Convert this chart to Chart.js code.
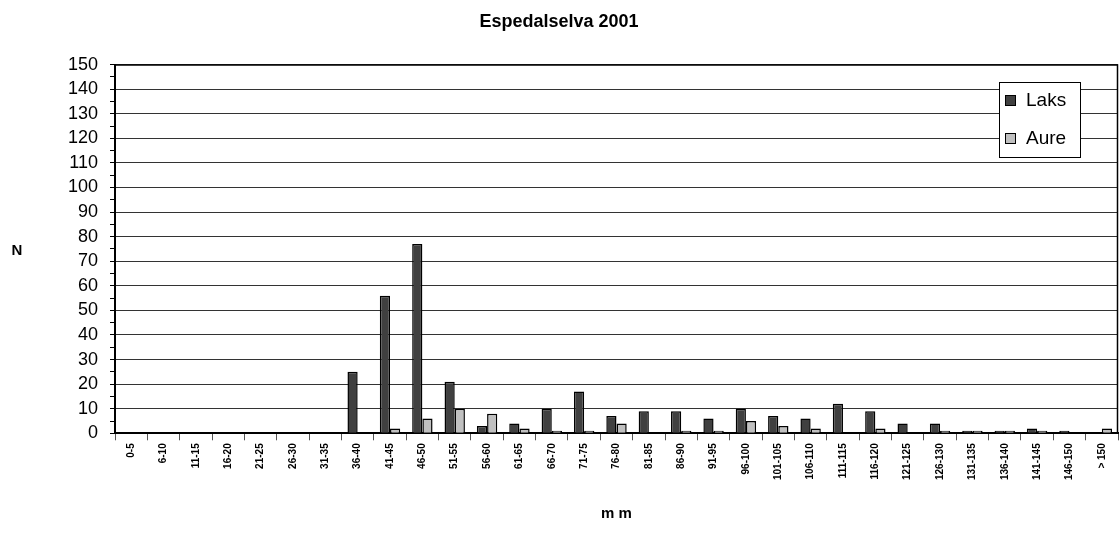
<!DOCTYPE html>
<html lang="no">
<head>
<meta charset="UTF-8">
<title>Espedalselva 2001</title>
<script src="https://cdn.jsdelivr.net/npm/chart.js"></script>
<style>
  html, body { margin: 0; padding: 0; background: #fff; }
  #wrap { width: 1120px; height: 548px; position: relative; }
</style>
</head>
<body>
<div id="wrap"><canvas id="chart"></canvas></div>
<script>
// lengdegrupper (mm)
const kategorier = ['0-5', '6-10', '11-15', '16-20', '21-25', '26-30', '31-35', '36-40', '41-45', '46-50',
  '51-55', '56-60', '61-65', '66-70', '71-75', '76-80', '81-85', '86-90', '91-95', '96-100',
  '101-105', '106-110', '111-115', '116-120', '121-125', '126-130', '131-135', '136-140', '141-145', '146-150', '> 150'];
const laks = [0, 0, 0, 0, 0, 0, 0, 25, 56, 77, 21, 3, 4, 10, 17, 7, 9, 9, 6, 10, 7, 6, 12, 9, 4, 4, 1, 1, 2, 1, 0];
const aure = [0, 0, 0, 0, 0, 0, 0, 0, 2, 6, 10, 8, 2, 1, 1, 4, 0, 1, 1, 5, 3, 2, 0, 2, 0, 1, 1, 1, 1, 0, 2];

const fargeLaks = '#404040';
const fargeAure = '#c0c0c0';
const skrift = '"Liberation Sans", Arial, sans-serif';

// "N" staar vannrett til venstre, og forklaringen ligger inne i plottet
const ekstraTekst = {
  id: 'ekstraTekst',
  afterDraw(chart) {
    const ctx = chart.ctx;
    const area = chart.chartArea;
    ctx.save();
    ctx.fillStyle = '#000';
    ctx.font = 'bold 15px ' + skrift;
    ctx.textAlign = 'center';
    ctx.textBaseline = 'middle';
    ctx.fillText('N', 17, 251);

    // forklaring
    const bx = 999, by = 82, bw = 81, bh = 75;
    ctx.fillStyle = '#fff';
    ctx.fillRect(bx, by, bw, bh);
    ctx.strokeStyle = '#000';
    ctx.lineWidth = 1;
    ctx.strokeRect(bx + 0.5, by + 0.5, bw, bh);
    const rader = [['Laks', fargeLaks, by + 18], ['Aure', fargeAure, by + 56]];
    ctx.font = '19px ' + skrift;
    ctx.textAlign = 'left';
    rader.forEach(function (r) {
      ctx.fillStyle = r[1];
      ctx.fillRect(bx + 6, r[2] - 5, 11, 11);
      ctx.strokeRect(bx + 6.5, r[2] - 4.5, 10, 10);
      ctx.fillStyle = '#000';
      ctx.fillText(r[0], bx + 27, r[2] + 1);
    });

    // ramme rundt plottet
    ctx.strokeStyle = '#000';
    ctx.lineWidth = 1.5;
    ctx.beginPath();
    ctx.moveTo(area.left, area.top + 0.5);
    ctx.lineTo(area.right - 0.5, area.top + 0.5);
    ctx.lineTo(area.right - 0.5, area.bottom);
    ctx.stroke();
    ctx.restore();
  }
};

new Chart(document.getElementById('chart'), {
  type: 'bar',
  data: {
    labels: kategorier,
    datasets: [
      { label: 'Laks', data: laks, backgroundColor: fargeLaks, borderColor: '#000', borderWidth: 1.5, barPercentage: 1, categoryPercentage: 0.63 },
      { label: 'Aure', data: aure, backgroundColor: fargeAure, borderColor: '#000', borderWidth: 1.5, barPercentage: 1, categoryPercentage: 0.63 }
    ]
  },
  options: {
    responsive: true,
    maintainAspectRatio: false,
    animation: false,
    layout: { padding: { left: 0, right: 2, top: 0, bottom: 25 } },
    plugins: {
      legend: { display: false },
      tooltip: { enabled: false },
      title: {
        display: true,
        text: 'Espedalselva 2001',
        color: '#000',
        font: { family: skrift, size: 18, weight: 'bold' },
        padding: { top: 11, bottom: 32 }
      }
    },
    scales: {
      x: {
        grid: { offset: true, drawOnChartArea: false, tickLength: 7, color: '#000', tickColor: '#555' },
        border: { color: '#000', width: 2 },
        ticks: {
          color: '#000',
          maxRotation: 90,
          minRotation: 90,
          autoSkip: false,
          padding: 3,
          font: { family: skrift, size: 10, weight: 'bold' }
        },
        title: {
          display: true,
          text: 'm m',
          color: '#000',
          font: { family: skrift, size: 15, weight: 'bold' },
          padding: { top: 22, bottom: 0 }
        }
      },
      y: {
        min: 0,
        max: 150,
        afterFit: function (scale) { scale.width = 115; },
        ticks: {
          stepSize: 5,
          autoSkip: false,
          color: '#000',
          padding: 12,
          font: { family: skrift, size: 18 },
          callback: function (v) { return v % 10 === 0 ? v : ''; }
        },
        grid: {
          color: function (c) { return c.tick && c.tick.value % 10 === 0 ? '#333' : 'rgba(0,0,0,0)'; },
          tickColor: '#000',
          tickLength: 5,
          lineWidth: 1
        },
        border: { color: '#000', width: 2 }
      }
    }
  },
  plugins: [ekstraTekst]
});
</script>
</body>
</html>
